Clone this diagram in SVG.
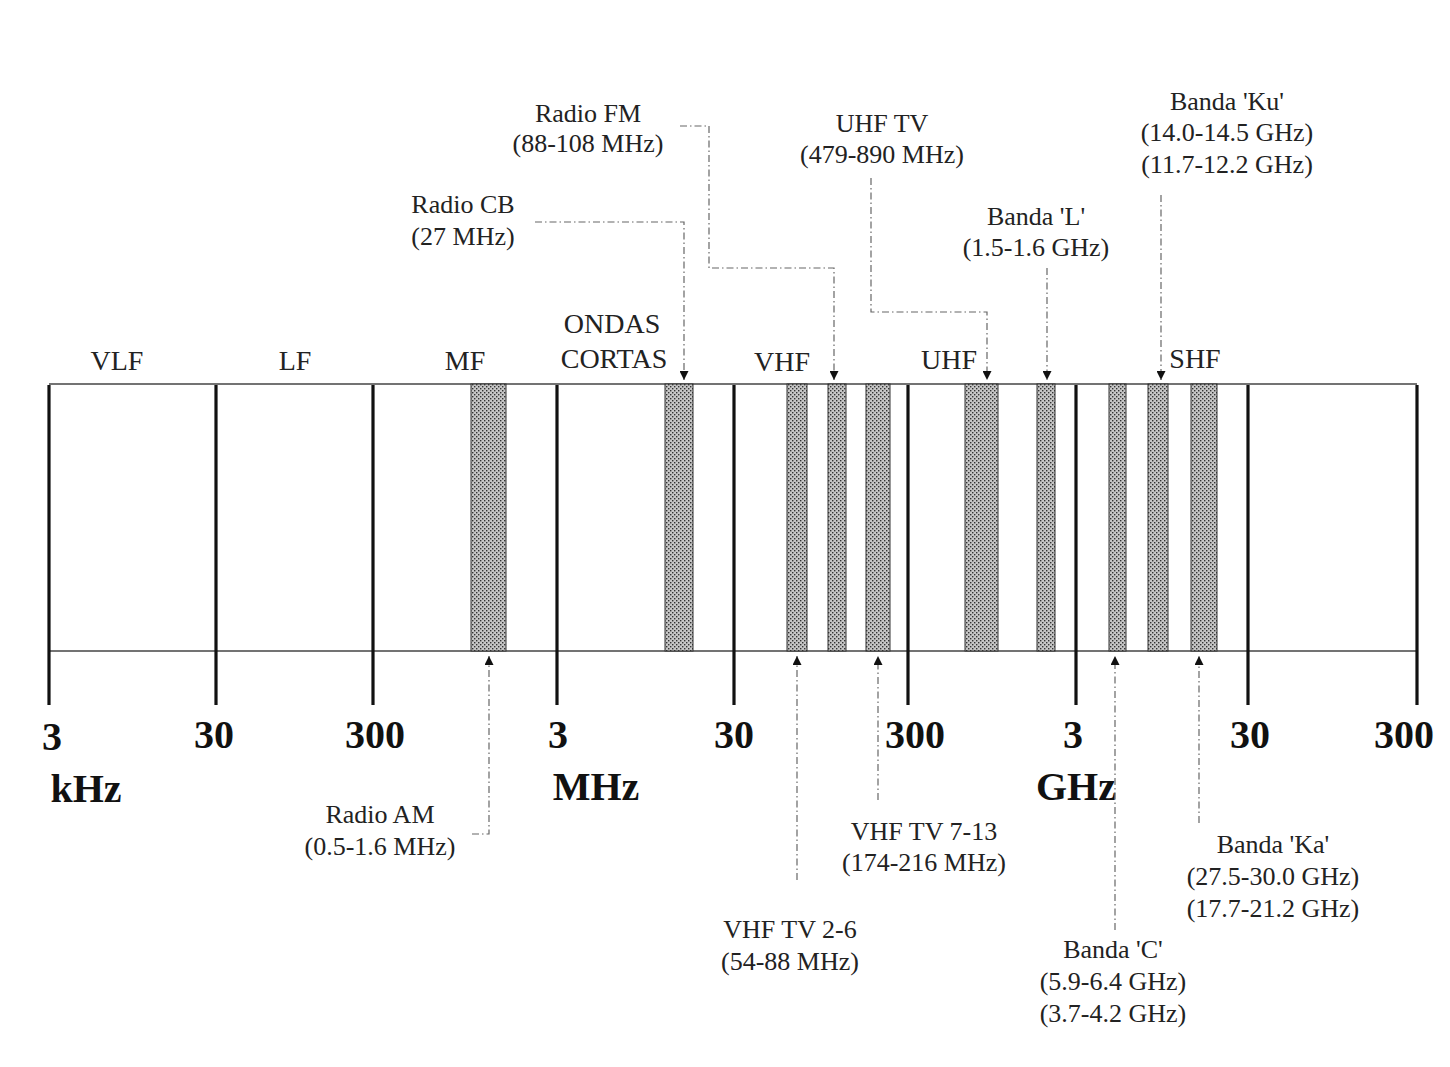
<svg xmlns="http://www.w3.org/2000/svg" width="1450" height="1067" viewBox="0 0 1450 1067">
<defs>
<pattern id="dots" width="4" height="4" patternUnits="userSpaceOnUse">
<rect width="4" height="4" fill="#c6c6c6"/>
<rect x="0" y="0" width="1.4" height="1.4" fill="#333"/>
<rect x="2" y="2" width="1.4" height="1.4" fill="#333"/>
</pattern>
<marker id="arr" viewBox="0 0 10 10" refX="10" refY="5" markerWidth="9" markerHeight="9" markerUnits="userSpaceOnUse" orient="auto">
<path d="M0,0 L10,5 L0,10 z" fill="#111"/>
</marker>
</defs>
<style>
.band{fill:url(#dots);stroke:#333;stroke-width:1}
.tick{stroke:#111;stroke-width:3.2}
.rail{stroke:#444;stroke-width:1.4}
.con{fill:none;stroke:#666;stroke-width:1.2;stroke-dasharray:7 3 1.5 3;marker-end:url(#arr)}
.lbl{font-family:"Liberation Serif","Times New Roman",serif;font-size:26px;fill:#222;text-anchor:middle}
.rng{font-family:"Liberation Serif","Times New Roman",serif;font-size:28px;fill:#222;text-anchor:middle}
.num{font-family:"Liberation Serif","Times New Roman",serif;font-size:40px;font-weight:bold;fill:#111;text-anchor:middle}
</style>
<rect width="1450" height="1067" fill="#fff"/>

<g id="axis">
<line class="rail" x1="49" y1="384" x2="1417" y2="384"/>
<line class="rail" x1="49" y1="651" x2="1417" y2="651"/>
<line class="tick" x1="49" y1="385" x2="49" y2="705"/>
<line class="tick" x1="216" y1="385" x2="216" y2="705"/>
<line class="tick" x1="373" y1="385" x2="373" y2="705"/>
<line class="tick" x1="557" y1="385" x2="557" y2="705"/>
<line class="tick" x1="734" y1="385" x2="734" y2="705"/>
<line class="tick" x1="908" y1="385" x2="908" y2="705"/>
<line class="tick" x1="1076" y1="385" x2="1076" y2="705"/>
<line class="tick" x1="1248" y1="385" x2="1248" y2="705"/>
<line class="tick" x1="1417" y1="385" x2="1417" y2="705"/>
<text class="num" x="52" y="750">3</text>
<text class="num" x="214" y="748">30</text>
<text class="num" x="375" y="748">300</text>
<text class="num" x="558" y="748">3</text>
<text class="num" x="734" y="748">30</text>
<text class="num" x="915" y="748">300</text>
<text class="num" x="1073" y="748">3</text>
<text class="num" x="1250" y="748">30</text>
<text class="num" x="1404" y="748">300</text>
<text class="num" x="86" y="802">kHz</text>
<text class="num" x="596" y="800">MHz</text>
<text class="num" x="1076" y="800">GHz</text>
</g>

<g id="band-names">
<text class="rng" x="117" y="370">VLF</text>
<text class="rng" x="295" y="370">LF</text>
<text class="rng" x="465" y="370">MF</text>
<text class="rng" x="612" y="333">ONDAS</text>
<text class="rng" x="614" y="368">CORTAS</text>
<text class="rng" x="782" y="371">VHF</text>
<text class="rng" x="949" y="369">UHF</text>
<text class="rng" x="1195" y="368">SHF</text>
</g>

<g id="bands">
<rect id="b-am" class="band" x="471" y="384" width="35" height="267"/>
<rect id="b-cb" class="band" x="665" y="384" width="28" height="267"/>
<rect id="b-tv26" class="band" x="787" y="384" width="20" height="267"/>
<rect id="b-fm" class="band" x="828" y="384" width="18" height="267"/>
<rect id="b-tv713" class="band" x="866" y="384" width="24" height="267"/>
<rect id="b-uhftv" class="band" x="965" y="384" width="33" height="267"/>
<rect id="b-l" class="band" x="1037" y="384" width="18" height="267"/>
<rect id="b-c" class="band" x="1109" y="384" width="17" height="267"/>
<rect id="b-ku" class="band" x="1148" y="384" width="20" height="267"/>
<rect id="b-ka" class="band" x="1191" y="384" width="26" height="267"/>
</g>

<g id="connectors">
<path class="con" d="M535,222 H684 V380"/>
<path class="con" d="M680,126 H709 V268 H834 V380"/>
<path class="con" d="M871,178 V312 H987 V380"/>
<path class="con" d="M1047,268 V380"/>
<path class="con" d="M1161,195 V380"/>
<path class="con" d="M472,834 H489 V656"/>
<path class="con" d="M797,880 V656"/>
<path class="con" d="M878,800 V656"/>
<path class="con" d="M1115,930 V656"/>
<path class="con" d="M1199,823 V656"/>
</g>

<g id="lbl-fm"><text class="lbl" x="588" y="122">Radio FM</text><text class="lbl" x="588" y="152">(88-108 MHz)</text></g>
<g id="lbl-cb"><text class="lbl" x="463" y="213">Radio CB</text><text class="lbl" x="463" y="245">(27 MHz)</text></g>
<g id="lbl-uhftv"><text class="lbl" x="882" y="132">UHF TV</text><text class="lbl" x="882" y="163">(479-890 MHz)</text></g>
<g id="lbl-l"><text class="lbl" x="1036" y="225">Banda 'L'</text><text class="lbl" x="1036" y="256">(1.5-1.6 GHz)</text></g>
<g id="lbl-ku"><text class="lbl" x="1227" y="110">Banda 'Ku'</text><text class="lbl" x="1227" y="141">(14.0-14.5 GHz)</text><text class="lbl" x="1227" y="173">(11.7-12.2 GHz)</text></g>
<g id="lbl-am"><text class="lbl" x="380" y="823">Radio AM</text><text class="lbl" x="380" y="855">(0.5-1.6 MHz)</text></g>
<g id="lbl-tv26"><text class="lbl" x="790" y="938">VHF TV 2-6</text><text class="lbl" x="790" y="970">(54-88 MHz)</text></g>
<g id="lbl-tv713"><text class="lbl" x="924" y="840">VHF TV 7-13</text><text class="lbl" x="924" y="871">(174-216 MHz)</text></g>
<g id="lbl-c"><text class="lbl" x="1113" y="958">Banda 'C'</text><text class="lbl" x="1113" y="990">(5.9-6.4 GHz)</text><text class="lbl" x="1113" y="1022">(3.7-4.2 GHz)</text></g>
<g id="lbl-ka"><text class="lbl" x="1273" y="853">Banda 'Ka'</text><text class="lbl" x="1273" y="885">(27.5-30.0 GHz)</text><text class="lbl" x="1273" y="917">(17.7-21.2 GHz)</text></g>
</svg>
